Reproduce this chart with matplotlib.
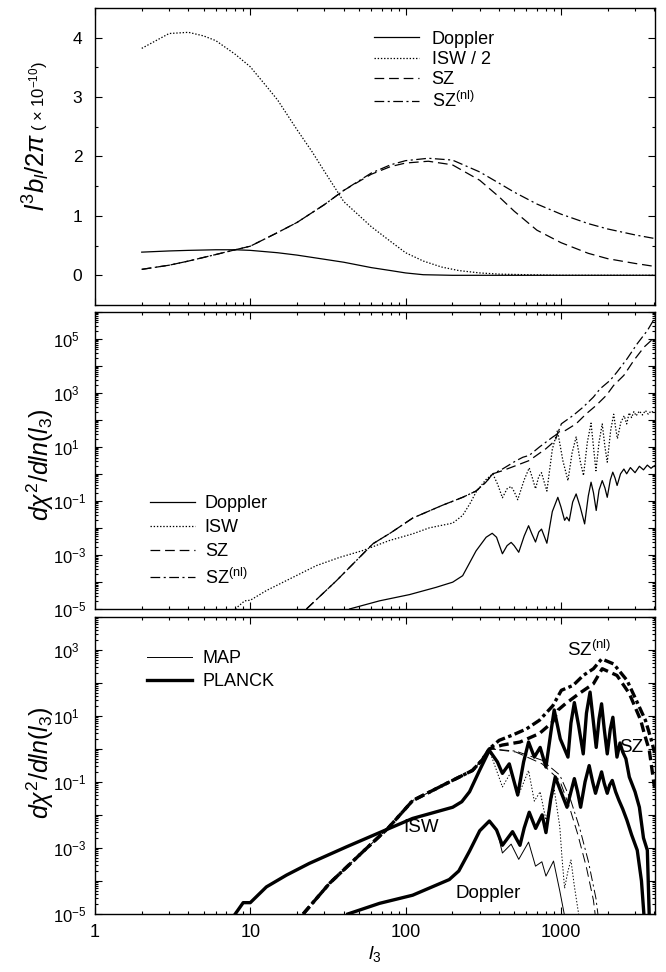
import numpy as np
import matplotlib.pyplot as plt
from matplotlib.ticker import LogLocator, MultipleLocator, FuncFormatter, NullFormatter

plt.rcParams['font.family'] = ['Liberation Sans', 'DejaVu Sans']
plt.rcParams['mathtext.fontset'] = 'custom'
plt.rcParams['mathtext.rm'] = 'Liberation Sans'
plt.rcParams['mathtext.it'] = 'Liberation Sans:italic'
plt.rcParams['mathtext.bf'] = 'Liberation Sans:bold'
plt.rcParams['lines.scale_dashes'] = False

# ---- top panel: l^3 b_l / 2pi (x 1e-10)
top_l_dop = [2, 3, 4, 6, 8, 10, 15, 20, 30, 40, 60, 80, 100, 130, 200, 400, 1000, 4000]
top_dop = [0.39, 0.41, 0.42, 0.43, 0.43, 0.42, 0.38, 0.34, 0.27, 0.22, 0.13, 0.08, 0.04, 0.01,
           0.0, 0.0, 0.0, 0.0]
top_l_isw = [2, 3, 4, 5, 6, 8, 10, 13, 15, 20, 25, 30, 40, 50, 60, 80, 100, 130, 170, 220,
             300, 400, 600, 1000, 4000]
top_isw = [3.82, 4.07, 4.09, 4.03, 3.95, 3.72, 3.51, 3.15, 2.95, 2.45, 2.08, 1.75, 1.24, 1.01,
           0.82, 0.57, 0.38, 0.24, 0.14, 0.08, 0.04, 0.02, 0.01, 0.0, 0.0]
top_l_sz = [2, 3, 4, 6, 8, 10, 15, 20, 30, 40, 60, 80, 100, 140, 200, 300, 400, 500, 700,
            1000, 1500, 2000, 3000, 4000]
top_sz = [0.10, 0.17, 0.24, 0.35, 0.43, 0.49, 0.72, 0.89, 1.19, 1.43, 1.70, 1.83, 1.89, 1.92,
          1.86, 1.60, 1.32, 1.08, 0.76, 0.55, 0.37, 0.28, 0.20, 0.15]
top_sznl = [0.10, 0.17, 0.24, 0.35, 0.43, 0.49, 0.72, 0.89, 1.19, 1.43, 1.72, 1.86, 1.93, 1.97,
            1.94, 1.74, 1.55, 1.40, 1.20, 1.03, 0.87, 0.78, 0.68, 0.62]

# ---- middle panel: d chi^2 / d ln l3, ideal
mid_l_dop = [43.6, 68, 106, 157, 201, 233, 284, 330, 361, 385, 420, 450, 478, 500, 535, 580,
             619, 650, 686, 720, 750, 780, 812, 880, 955, 1000, 1056, 1090, 1130, 1190, 1253,
             1330, 1421, 1500, 1563, 1620, 1687, 1760, 1845, 1920, 1987, 2080, 2157, 2230,
             2300, 2420, 2543, 2650, 2800, 3000, 3200, 3400, 3600, 3800, 4000]
mid_dop = [1e-5, 2e-5, 3.4e-5, 6.3e-5, 9.8e-5, 1.7e-4, 1.4e-3, 4.5e-3, 6.3e-3, 4.5e-3, 1.1e-3,
           2.2e-3, 2.9e-3, 2.2e-3, 1.25e-3, 5e-3, 1.2e-2, 6e-3, 3e-3, 7e-3, 9e-3, 5e-3, 2.7e-3,
           4e-2, 0.135, 0.06, 0.019, 0.025, 0.018, 0.09, 0.18, 0.06, 0.014, 0.15, 0.49, 0.2,
           0.044, 0.25, 0.56, 0.3, 0.135, 0.6, 1.15, 0.7, 0.37, 1.0, 1.5, 1.0, 1.7, 1.1, 1.9,
           1.4, 2.1, 1.6, 2.0]
mid_l_isw = [8, 9.2, 10, 12.7, 18.9, 26.6, 37.6, 53, 78.6, 111, 142, 201, 233, 260, 284, 328,
             364, 392, 420, 450, 478, 500, 527, 580, 625, 655, 686, 720, 750, 780, 812, 880,
             950, 1030, 1110, 1180, 1253, 1330, 1397, 1480, 1563, 1620, 1680, 1760, 1845, 1920,
             1987, 2090, 2186, 2250, 2310, 2430, 2553, 2650, 2750, 2850, 2950, 3050, 3200,
             3350, 3500, 3650, 3800, 4000]
mid_isw = [1e-5, 2e-5, 2.1e-5, 4.8e-5, 1.5e-4, 4e-4, 8.1e-4, 1.45e-3, 3.4e-3, 6e-3, 1e-2,
           1.5e-2, 2.9e-2, 8e-2, 0.21, 0.6, 1.0, 0.4, 0.13, 0.28, 0.34, 0.22, 0.11, 0.6, 1.66,
           0.7, 0.28, 0.8, 1.1, 0.5, 0.23, 8, 40, 3, 0.56, 6, 23, 3, 0.87, 15, 75, 10, 1.3, 15,
           70, 10, 2.7, 40, 160, 50, 20, 80, 140, 70, 180, 120, 200, 140, 210, 150, 220, 160,
           210, 180]
mid_l_sz = [23, 35.8, 61.7, 80, 111, 172, 233, 284, 330, 364, 420, 512, 625, 801, 919, 960,
            1068, 1253, 1456, 1687, 1962, 2184, 2543, 2954, 3433, 4000]
mid_sz = [1e-5, 1.1e-4, 2.6e-3, 6.5e-3, 2.3e-2, 6.8e-2, 0.135, 0.23, 0.5, 1.0, 1.3, 2.0, 3.1,
          8.5, 17, 35, 40, 71, 166, 340, 800, 1860, 4400, 1.6e4, 4.9e4, 1.1e5]
mid_l_sznl = [23, 35.8, 61.7, 80, 111, 172, 233, 284, 330, 364, 420, 512, 569, 625, 727, 886,
              950, 1007, 1198, 1392, 1619, 1788, 2079, 2295, 2666, 3099, 3602, 4000]
mid_sznl = [1e-5, 1.1e-4, 2.6e-3, 6.5e-3, 2.3e-2, 6.8e-2, 0.135, 0.23, 0.5, 1.0, 1.5, 3.0, 4.1,
            4.8, 9.8, 23, 30, 71, 144, 295, 690, 1400, 2900, 5800, 1.8e4, 6.5e4, 2e5, 5.5e5]

# ---- bottom panel: MAP and PLANCK (common low-l part)
bot_l_isw_lo = [8, 9, 10, 12.7, 17.1, 24, 41.5, 78.6, 111, 201, 230, 258, 299, 346]
bot_isw_lo = [1e-5, 2.2e-5, 2.2e-5, 6.6e-5, 1.5e-4, 3.4e-4, 1.07e-3, 3.9e-3, 7.8e-3, 0.017,
              0.025, 0.05, 0.22, 0.9]
bot_l_dop_lo = [42.5, 68, 111, 191, 220, 258, 300, 346]
bot_dop_lo = [1e-5, 2.1e-5, 3.7e-5, 1.1e-4, 2e-4, 8e-4, 3.3e-3, 6.5e-3]
bot_l_sz_lo = [21.9, 32.4, 53, 76.9, 111, 183, 269, 310, 346]
bot_sz_lo = [1e-5, 8.5e-5, 7.6e-4, 3.9e-3, 0.027, 0.089, 0.22, 0.45, 1.0]

pl_l_isw = [390, 420, 465, 527, 575, 619, 674, 735, 801, 860, 905, 990, 1110, 1160, 1220, 1300,
            1392, 1460, 1540, 1610, 1687, 1760, 1827, 1900, 1987, 2080, 2160, 2230, 2295, 2400,
            2500, 2620, 2756, 3000, 3200, 3400, 3600, 3700]
pl_isw = [0.4, 0.18, 0.35, 0.04, 0.4, 1.6, 0.56, 1.1, 0.28, 3, 15, 2, 0.56, 6, 25, 5, 0.7, 12,
          52, 8, 1.1, 8, 23, 4, 0.7, 4, 9, 2, 0.56, 1.5, 0.8, 0.5, 0.14, 0.05, 0.017, 2e-3,
          8.5e-4, 1e-5]
pl_l_dop = [385, 420, 488, 545, 580, 625, 687, 757, 801, 860, 919, 1000, 1094, 1160, 1220, 1280,
            1339, 1430, 1520, 1600, 1670, 1750, 1827, 1900, 1987, 2060, 2140, 2250, 2360, 2500,
            2660, 2850, 3100, 3300, 3420]
pl_dop = [3.5e-3, 1.2e-3, 3.1e-3, 1.2e-3, 4e-3, 0.012, 3.9e-3, 0.01, 2.9e-3, 0.03, 0.14, 0.05,
          0.017, 0.05, 0.125, 0.05, 0.017, 0.1, 0.31, 0.1, 0.045, 0.1, 0.2, 0.09, 0.045, 0.08,
          0.11, 0.05, 0.028, 0.015, 6.9e-3, 2.5e-3, 8.5e-4, 1e-4, 1e-5]
pl_l_sz = [420, 545, 727, 886, 960, 1068, 1310, 1619, 1845, 2295, 2756, 3265, 3433, 3706, 4000]
pl_sz = [1.3, 1.6, 2.9, 6.5, 15, 23, 47, 93, 265, 166, 47, 7.3, 3, 0.9, 0.07]
pl_l_sznl = [400, 488, 600, 727, 886, 1007, 1198, 1392, 1619, 1830, 2184, 2666, 3060, 3500,
             3800, 4000]
pl_sznl = [1.8, 2.6, 4.0, 7.3, 20, 59, 83, 166, 265, 525, 370, 117, 29, 7.3, 2, 0.8]

map_l_isw = [420, 478, 527, 619, 674, 735, 801, 905, 983, 1016, 1056, 1110, 1160, 1220, 1300]
map_isw = [0.07, 0.2, 0.035, 0.22, 0.026, 0.05, 7e-3, 0.06, 4.4e-3, 5e-4, 6e-5, 2e-4, 4.3e-4,
           7e-5, 1e-5]
map_l_dop = [390, 420, 478, 535, 619, 686, 754, 801, 896, 983, 1050]
map_dop = [3e-3, 7e-4, 1.3e-3, 4.5e-4, 1.5e-3, 2.8e-4, 3.8e-4, 1.4e-4, 4e-4, 5e-5, 1e-5]
map_l_sz = [512, 757, 983, 1135, 1280, 1456, 1619, 1660]
map_sz = [0.8, 0.35, 0.11, 0.017, 2.7e-3, 2.7e-4, 2.6e-5, 1e-5]
map_l_sznl = [512, 757, 983, 1150, 1320, 1500, 1680, 1730]
map_sznl = [0.85, 0.45, 0.16, 0.03, 4e-3, 4e-4, 3e-5, 1e-5]

SOLID = '-'
DOT = (0, (1.0, 1.3))
DASH = (0, (7, 3.5))
DASHDOT = (0, (7, 2.5, 1.5, 2.5))
TDASH = (0, (7, 3.5))
TDASHDOT = (0, (7, 2.5, 2.5, 2.5))
LW = 0.9
TLW = 2.4

W, H = 666, 972
fig = plt.figure(figsize=(W / 100, H / 100), dpi=100)
ax1 = fig.add_axes([0.1426, 0.6862, 0.8408, 0.3056])
ax2 = fig.add_axes([0.1426, 0.3735, 0.8408, 0.3059])
ax3 = fig.add_axes([0.1426, 0.0597, 0.8408, 0.3059])


def decade_label(v, pos):
    e = int(round(np.log10(v)))
    if e % 2 == 0:
        return ''
    return r'$10^{%d}$' % e


for ax in (ax1, ax2, ax3):
    ax.set_xscale('log')
    ax.set_xlim(1, 4030)
    ax.xaxis.set_major_locator(LogLocator(base=10, numticks=10))
    ax.xaxis.set_minor_locator(LogLocator(base=10, subs=np.arange(2, 10), numticks=50))
    ax.tick_params(which='both', direction='in', top=True, right=True, labelsize=12, width=0.8)
    ax.tick_params(which='major', length=5)
    ax.tick_params(which='minor', length=2.5)
    for s in ax.spines.values():
        s.set_linewidth(1.0)

ax1.set_ylim(-0.5, 4.5)
ax2.set_ylim(1e-5, 1e6)
ax3.set_ylim(1e-5, 1e4)

for ax in (ax2, ax3):
    ax.set_yscale('log')
    ax.set_ylim(*ax.get_ylim())
    ax.yaxis.set_major_locator(LogLocator(base=10, numticks=30))
    ax.yaxis.set_minor_locator(LogLocator(base=10, subs=np.arange(2, 10), numticks=200))
    ax.yaxis.set_major_formatter(FuncFormatter(decade_label))
    ax.yaxis.set_minor_formatter(NullFormatter())
    ax.tick_params(axis='y', which='major', pad=30)
    plt.setp(ax.get_yticklabels(), ha='left')

ax2.set_ylim(1e-5, 1e6)
ax3.set_ylim(1e-5, 1e4)

ax1.tick_params(labelbottom=False)
ax2.tick_params(labelbottom=False)
ax3.xaxis.set_major_formatter(FuncFormatter(lambda v, p: '%d' % round(v)))
ax3.xaxis.set_minor_formatter(NullFormatter())
ax3.tick_params(axis='x', labelsize=13, pad=7)

# top
ax1.yaxis.set_major_locator(MultipleLocator(1))
ax1.yaxis.set_minor_locator(MultipleLocator(0.5))
ax1.tick_params(axis='y', labelsize=12.5, pad=9)
ax1.plot(top_l_dop, top_dop, color='k', lw=LW, ls=SOLID, label='Doppler')
ax1.plot(top_l_isw, top_isw, color='k', lw=LW, ls=DOT, label='ISW / 2')
ax1.plot(top_l_sz, top_sz, color='k', lw=LW, ls=DASH, label='SZ')
ax1.plot(top_l_sz, top_sznl, color='k', lw=LW, ls=DASHDOT, label=r'SZ$^{\rm (nl)}$')
ax1.legend(loc='upper left', bbox_to_anchor=(0.485, 0.948), frameon=False, fontsize=13,
           handlelength=2.5, handletextpad=0.7, labelspacing=0.18, borderaxespad=0)

# middle
ax2.plot(mid_l_dop, mid_dop, color='k', lw=LW, ls=SOLID, label='Doppler')
ax2.plot(mid_l_isw, mid_isw, color='k', lw=LW, ls=DOT, label='ISW')
ax2.plot(mid_l_sz, mid_sz, color='k', lw=LW, ls=DASH, label='SZ')
ax2.plot(mid_l_sznl, mid_sznl, color='k', lw=LW, ls=DASHDOT, label=r'SZ$^{\rm (nl)}$')
ax2.legend(loc='upper left', bbox_to_anchor=(0.085, 0.408), frameon=False, fontsize=13,
           handlelength=2.5, handletextpad=0.55, labelspacing=0.4, borderaxespad=0)

# bottom
ax3.plot(bot_l_isw_lo + map_l_isw, bot_isw_lo + map_isw, color='k', lw=0.7, ls=DOT)
ax3.plot(bot_l_dop_lo + map_l_dop, bot_dop_lo + map_dop, color='k', lw=0.7, ls=SOLID)
ax3.plot(bot_l_sz_lo + map_l_sz, bot_sz_lo + map_sz, color='k', lw=0.7, ls=DASH)
ax3.plot(bot_l_sz_lo + map_l_sznl, bot_sz_lo + map_sznl, color='k', lw=0.7, ls=DASHDOT)
ax3.plot(bot_l_isw_lo + pl_l_isw, bot_isw_lo + pl_isw, color='k', lw=TLW, ls=SOLID)
ax3.plot(bot_l_dop_lo + pl_l_dop, bot_dop_lo + pl_dop, color='k', lw=TLW, ls=SOLID)
ax3.plot(bot_l_sz_lo + pl_l_sz, bot_sz_lo + pl_sz, color='k', lw=TLW, ls=TDASH)
ax3.plot(bot_l_sz_lo + pl_l_sznl, bot_sz_lo + pl_sznl, color='k', lw=TLW, ls=TDASHDOT)
ax3.plot([], [], color='k', lw=0.7, label='MAP')
ax3.plot([], [], color='k', lw=TLW, label='PLANCK')
ax3.legend(loc='upper left', bbox_to_anchor=(0.08, 0.911), frameon=False, fontsize=13,
           handlelength=2.5, handletextpad=0.55, labelspacing=0.33, borderaxespad=0)

ax3.text(1525, 950, r'SZ$^{\rm (nl)}$', fontsize=13.5, ha='center', va='center')
ax3.text(2826, 1.06, 'SZ', fontsize=13.5, ha='center', va='center')
ax3.text(126, 4.1e-3, 'ISW', fontsize=13.5, ha='center', va='center')
ax3.text(342, 4.3e-5, 'Doppler', fontsize=13.5, ha='center', va='center')

# axis titles
fig.text(36 / W, 1 - 172 / H, r'$l^3b_l/2\pi$', rotation=90, fontsize=18.5,
         ha='center', va='center')
fig.text(39 / W, 1 - 96 / H, r'( $\times$ 10$^{-10}$)', rotation=90, fontsize=12,
         ha='center', va='center')
fig.text(40 / W, 1 - 465 / H, r'$d\chi^2/dln(l_3)$', rotation=90, fontsize=18,
         ha='center', va='center')
fig.text(40 / W, 1 - 763 / H, r'$d\chi^2/dln(l_3)$', rotation=90, fontsize=18,
         ha='center', va='center')
fig.text(375 / W, 1 - 954 / H, r'$l_3$', fontsize=14, ha='center', va='center')

fig.savefig('out.png', dpi=100)
